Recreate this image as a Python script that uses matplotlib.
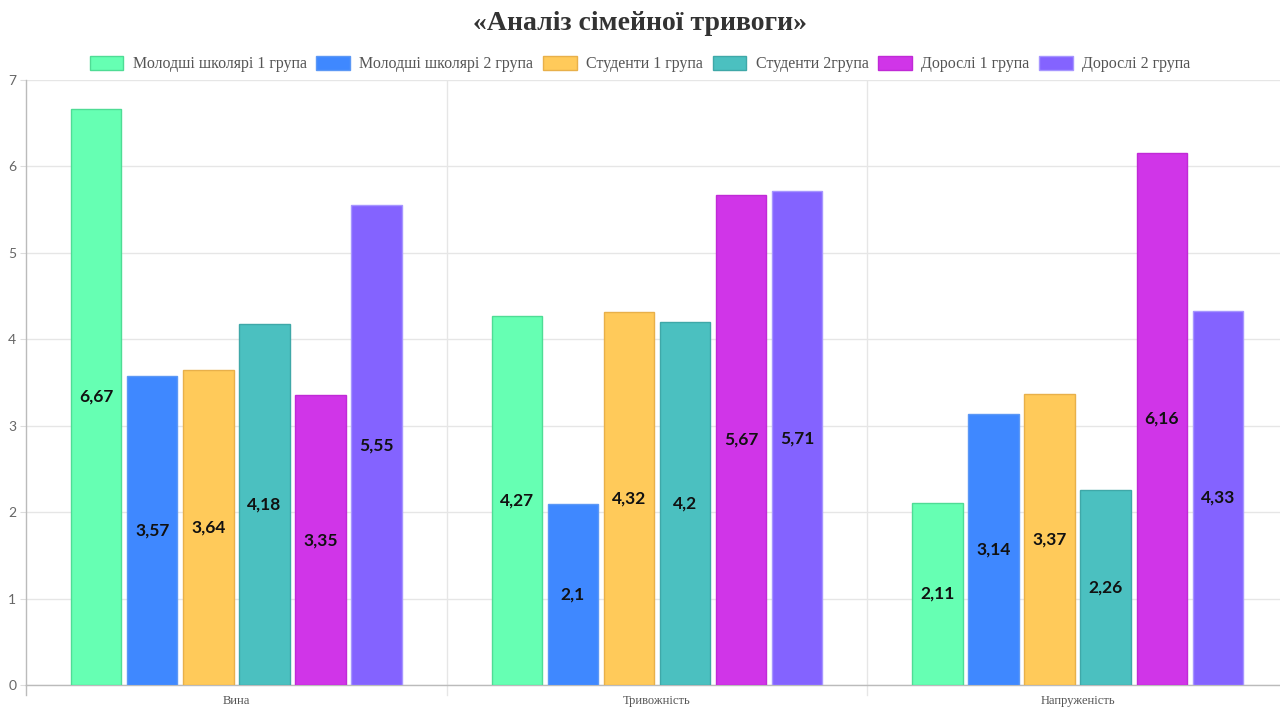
import numpy as np
import matplotlib.pyplot as plt

# Categories and series of the family anxiety survey
categories = ['Вина', 'Тривожність', 'Напруженість']
series_names = ['Молодші школярі 1 група', 'Молодші школярі 2 група', 'Студенти 1 група',
                'Студенти 2група', 'Дорослі 1 група', 'Дорослі 2 група']
junior_1 = [6.67, 4.27, 2.11]
junior_2 = [3.57, 2.1, 3.14]
students_1 = [3.64, 4.32, 3.37]
students_2 = [4.18, 4.2, 2.26]
adults_1 = [3.35, 5.67, 6.16]
adults_2 = [5.55, 5.71, 4.33]
series_values = [junior_1, junior_2, students_1, students_2, adults_1, adults_2]

colors = ['#66ffb3', '#3f88ff', '#ffca5a', '#4bc0c0', '#d035e8', '#8463ff']
edges = ['#4fdc95', '#5c98f5', '#e8b04a', '#3fa8a8', '#c02ad6', '#a796ff']

fig = plt.figure(figsize=(12.8, 7.07), dpi=100)
ax = fig.add_axes([26 / 1280, 22 / 707, 1262 / 1280, 605 / 707])

n = len(series_values)
group_w = 0.8
slot = group_w / n
bar_w = slot * 0.9
x = np.arange(len(categories))

for i, (vals, name) in enumerate(zip(series_values, series_names)):
    pos = x - group_w / 2 + slot * (i + 0.5)
    bars = ax.bar(pos, vals, width=bar_w, color=colors[i], edgecolor=edges[i],
                  linewidth=1, label=name, zorder=3)
    for b, v in zip(bars, vals):
        txt = f'{v:g}'.replace('.', ',')
        ax.text(b.get_x() + b.get_width() / 2, v / 2, txt, ha='center', va='center',
                fontsize=12.5, family='Lato', fontweight='bold', color='#111111', zorder=4)

ax.set_xlim(-0.5, len(categories) - 0.5)
ax.set_ylim(0, 7)
ax.set_yticks(range(0, 8))
ax.set_xticks(x)
ax.set_xticklabels(categories, family='Liberation Serif', fontsize=9, color='#555555')
ax.tick_params(axis='x', length=0, pad=7)
ax.tick_params(axis='y', length=4, color='#dddddd', labelsize=10, labelcolor='#666666', pad=3)
for lbl in ax.get_yticklabels():
    lbl.set_family('Lato')

# horizontal grid plus category separators
ax.grid(axis='y', color='#e6e6e6', linewidth=1, zorder=0)
for b in np.arange(0.5, len(categories) - 0.5, 1):
    ax.axvline(b, color='#e6e6e6', linewidth=1, zorder=0)
    ax.plot([b, b], [0, -0.12], color='#e6e6e6', linewidth=1, clip_on=False)
ax.plot([-0.5, -0.5], [0, -0.12], color='#bbbbbb', linewidth=1, clip_on=False)

for side in ['top', 'right']:
    ax.spines[side].set_visible(False)
for side in ['left', 'bottom']:
    ax.spines[side].set_color('#bbbbbb')
    ax.spines[side].set_linewidth(1)

fig.text(0.5, 1 - 24 / 707, '«Аналіз сімейної тривоги»', ha='center', va='center',
         family='Liberation Serif', fontweight='bold', fontsize=20, color='#333333')

fig.legend(loc='center', bbox_to_anchor=(0.5, 1 - 64 / 707), ncol=6, frameon=False,
           prop={'family': 'Liberation Serif', 'size': 11.5}, labelcolor='#555555',
           handlelength=2.1, handleheight=1.0, handletextpad=0.6, columnspacing=0.6)

fig.savefig('out.png', dpi=100)
